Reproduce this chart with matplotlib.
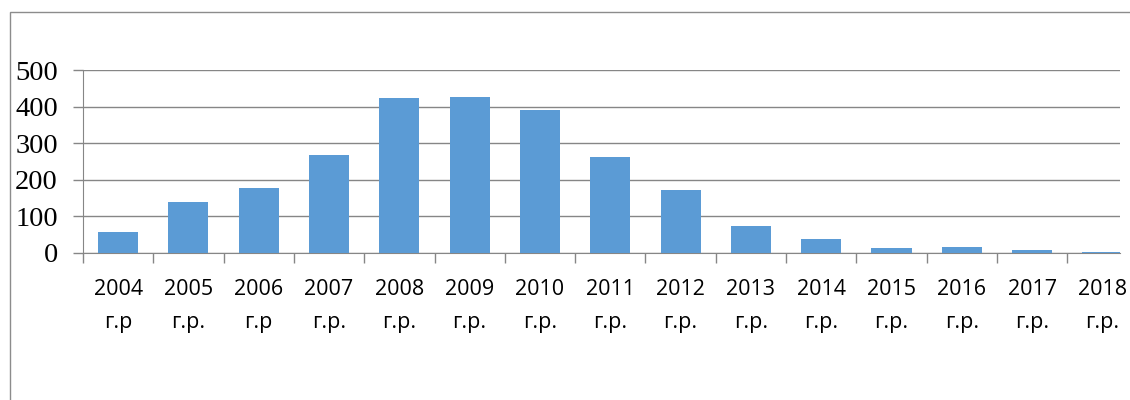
import matplotlib.pyplot as plt
import numpy as np
from matplotlib.patches import Rectangle

# data
years = ['2004', '2005', '2006', '2007', '2008', '2009', '2010', '2011',
         '2012', '2013', '2014', '2015', '2016', '2017', '2018']
suffixes = ['г.р', 'г.р.', 'г.р', 'г.р.', 'г.р.', 'г.р.', 'г.р.', 'г.р.',
            'г.р.', 'г.р.', 'г.р.', 'г.р.', 'г.р.', 'г.р.', 'г.р.']
counts = [57, 139, 177, 268, 423, 426, 390, 262, 172, 74, 38, 14, 16, 7, 2]
yticks = [0, 100, 200, 300, 400, 500]

W, H = 1130, 400
fig = plt.figure(figsize=(W / 100, H / 100), dpi=100)

# outer chart frame (only left and top visible in the reference)
fig.add_artist(Rectangle((10 / W, -0.1), 1.2, (400 - 12) / H + 0.1,
                         transform=fig.transFigure, fill=False,
                         edgecolor='#8c8c8c', linewidth=1))

ax = fig.add_axes([83 / W, (400 - 253) / H, (1120 - 83) / W, 183 / H])

x = np.arange(len(years))
ax.bar(x, counts, width=0.57, color='#5B9BD5', zorder=3)

ax.set_yticks(yticks)
ax.set_yticklabels([str(v) for v in yticks], fontfamily='Liberation Serif',
                   fontsize=20.5)
ax.yaxis.grid(True, color='#868686', linewidth=1, zorder=0)

# category labels, ticks at boundaries
ax.set_xticks(x)
ax.set_xticklabels([f'{y}\n{s}' for y, s in zip(years, suffixes)],
                   fontfamily='Open Sans', fontsize=15.5, linespacing=1.7)
ax.tick_params(axis='x', length=0, pad=19)
ax.set_xticks(np.arange(-0.5, 14.0, 1), minor=True)
ax.tick_params(axis='x', which='minor', length=7, color='#868686', width=1)
ax.tick_params(axis='y', length=7, color='#868686', width=1, pad=11)

ax.set_xlim(-0.5, 14.25)
ax.set_ylim(0, 500)

for side in ['top', 'right']:
    ax.spines[side].set_visible(False)
for side in ['left', 'bottom']:
    ax.spines[side].set_color('#868686')

fig.savefig('out.png', dpi=100)
